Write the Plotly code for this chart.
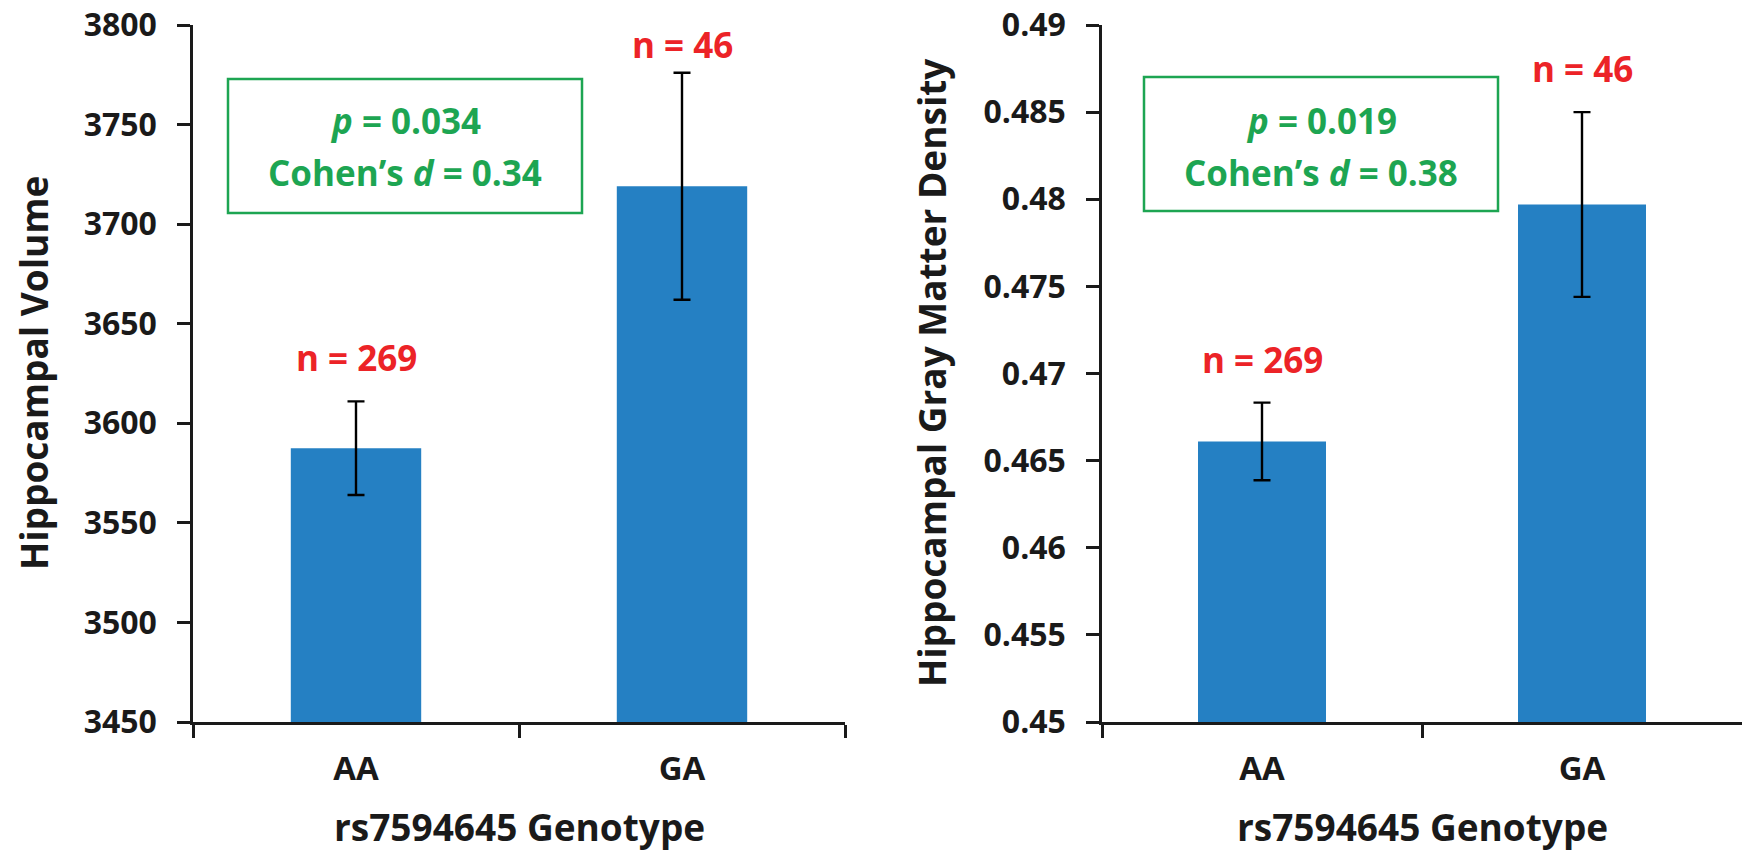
import plotly.graph_objects as go

# ---- data ----
genotypes = ["AA", "GA"]
n_labels = ["n = 269", "n = 46"]

volume_mean = [3587.5, 3719.0]
volume_se = [23.5, 57.0]

density_mean = [0.4661, 0.4797]
density_se = [0.00223, 0.0053]

volume_ticks = [3450, 3500, 3550, 3600, 3650, 3700, 3750, 3800]
volume_ticktext = ["3450", "3500", "3550", "3600", "3650", "3700", "3750", "3800"]
density_ticks = [0.45, 0.455, 0.46, 0.465, 0.47, 0.475, 0.48, 0.485, 0.49]
density_ticktext = ["0.45", "0.455", "0.46", "0.465", "0.47", "0.475", "0.48", "0.485", "0.49"]

stats_left = ["<i>p</i> = 0.034", "Cohen’s <i>d</i> = 0.34"]
stats_right = ["<i>p</i> = 0.019", "Cohen’s <i>d</i> = 0.38"]

x_title = "rs7594645 Genotype"
y_title_left = "Hippocampal Volume"
y_title_right = "Hippocampal Gray Matter Density"

# ---- style ----
W, H = 1748, 851
FONT = "Open Sans"
BAR = "#2580C3"
RED = "#EC2327"
GREEN = "#1DA552"
INK = "#1a1a1a"
# pixel lift of each n label above its error bar (left panel, right panel)
n_shift = [[18, 3], [18, 18]]

def px_x(x):
    return x / W

def px_y(y):
    return 1 - y / H

fig = go.Figure()

fig.add_trace(go.Bar(
    x=genotypes, y=volume_mean, xaxis="x", yaxis="y",
    marker=dict(color=BAR, line=dict(width=0)),
    error_y=dict(type="data", array=volume_se, color="black", thickness=2.4, width=8.5),
    width=0.4, showlegend=False, hoverinfo="skip",
))
fig.add_trace(go.Bar(
    x=genotypes, y=density_mean, xaxis="x2", yaxis="y2",
    marker=dict(color=BAR, line=dict(width=0)),
    error_y=dict(type="data", array=density_se, color="black", thickness=2.4, width=8.5),
    width=0.4, showlegend=False, hoverinfo="skip",
))

ydom = [px_y(722), px_y(25)]
tickfont = dict(family=FONT, size=32, color=INK, weight="bold")
xtickfont = dict(family=FONT, size=33, color=INK, weight="bold")

common_x = dict(type="category", range=[-0.5, 1.5], showline=True, linecolor=INK, linewidth=2.5,
                ticks="outside", ticklen=13, tickwidth=2.5, tickcolor=INK, tickson="boundaries",
                showgrid=False, zeroline=False, tickfont=xtickfont, ticklabelstandoff=16,
                fixedrange=True, automargin=False)
common_y = dict(showline=True, linecolor=INK, linewidth=2.5, ticks="outside", ticklen=13,
                tickwidth=2.5, tickcolor=INK, showgrid=False, zeroline=False, tickfont=tickfont,
                ticklabelstandoff=14, tickmode="array", automargin=False, fixedrange=True)

fig.update_layout(
    width=W, height=H, margin=dict(l=0, r=0, t=0, b=0, pad=0, autoexpand=False),
    paper_bgcolor="white", plot_bgcolor="white",
    xaxis=dict(domain=[px_x(193), px_x(845)], anchor="y", **common_x),
    xaxis2=dict(domain=[px_x(1102), px_x(1742)], anchor="y2", **common_x),
    yaxis=dict(domain=ydom, anchor="x", range=[3450, 3800], tickvals=volume_ticks,
               ticktext=volume_ticktext, **common_y),
    yaxis2=dict(domain=ydom, anchor="x2", range=[0.45, 0.49], tickvals=density_ticks,
                ticktext=density_ticktext, **common_y),
    bargap=0.6,
)

annos = []
# n labels above error bars
for (xa, ya, means, ses), shifts in zip([("x", "y", volume_mean, volume_se),
                                         ("x2", "y2", density_mean, density_se)], n_shift):
    for g, m, s, lab, sh in zip(genotypes, means, ses, n_labels, shifts):
        annos.append(dict(x=g, y=m + s, xref=xa, yref=ya, text="<b>" + lab + "</b>",
                          showarrow=False, yanchor="bottom", yshift=sh,
                          font=dict(family=FONT, size=35, color=RED)))

# stats boxes
for (x0, x1, y0, y1), lines in [((228, 582, 79, 213), stats_left), ((1144, 1498, 77, 211), stats_right)]:
    fig.add_shape(type="rect", xref="paper", yref="paper",
                  x0=px_x(x0), x1=px_x(x1), y0=px_y(y1), y1=px_y(y0),
                  line=dict(color=GREEN, width=2.5), fillcolor="rgba(0,0,0,0)")
    cx = (x0 + x1) / 2
    for yy, t in zip([120, 172], lines):
        annos.append(dict(x=px_x(cx), y=px_y(yy), xref="paper", yref="paper", text="<b>" + t + "</b>",
                          showarrow=False, xanchor="center", yanchor="middle",
                          font=dict(family=FONT, size=35, color=GREEN)))

# axis titles
for xa in ["x", "x2"]:
    annos.append(dict(x=0.5, y=px_y(826), xref=xa + " domain", yref="paper", text="<b>" + x_title + "</b>",
                      showarrow=False, xanchor="center", yanchor="middle",
                      font=dict(family=FONT, size=37, color=INK)))
annos.append(dict(x=px_x(33), y=px_y(373), xref="paper", yref="paper", text="<b>" + y_title_left + "</b>",
                  showarrow=False, textangle=-90, xanchor="center", yanchor="middle",
                  font=dict(family=FONT, size=37, color=INK)))
annos.append(dict(x=px_x(931), y=px_y(373), xref="paper", yref="paper", text="<b>" + y_title_right + "</b>",
                  showarrow=False, textangle=-90, xanchor="center", yanchor="middle",
                  font=dict(family=FONT, size=37, color=INK)))

fig.update_layout(annotations=annos)

fig.write_html("out.html", config={"displayModeBar": False},
               post_script="document.body.style.margin='0';document.body.style.padding='0';")
